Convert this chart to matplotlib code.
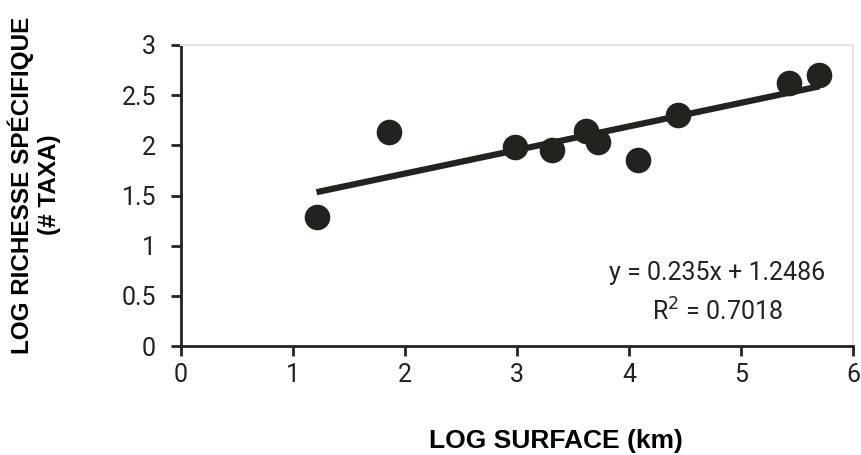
import matplotlib
matplotlib.use("Agg")
import matplotlib.pyplot as plt
from matplotlib import font_manager

log_surface = [1.21, 1.855, 2.98, 3.31, 3.62, 3.72, 4.08, 4.44, 5.43, 5.70]
log_richesse = [1.29, 2.13, 1.98, 1.95, 2.14, 2.03, 1.85, 2.30, 2.62, 2.70]
slope = 0.235
intercept = 1.2486
r2 = 0.7018
x_ticks = [0, 1, 2, 3, 4, 5, 6]
y_ticks = [0, 0.5, 1, 1.5, 2, 2.5, 3]
y_tick_labels = ["0", "0.5", "1", "1.5", "2", "2.5", "3"]

names = {f.name for f in font_manager.fontManager.ttflist}
narrow = ["Liberation Sans Narrow", "DejaVu Sans"] if "Liberation Sans Narrow" in names else ["Roboto", "DejaVu Sans"]
bold_font = ["Liberation Sans", "DejaVu Sans"]

fig = plt.figure(figsize=(8.61, 4.55), dpi=100)
ax = fig.add_axes([181/861, 109/455, 672/861, 301/455])

dark = "#22231f"
ax.scatter(log_surface, log_richesse, s=340, color=dark, zorder=3, linewidths=0)
x0, x1 = min(log_surface), max(log_surface)
ax.plot([x0, x1], [slope*x0 + intercept, slope*x1 + intercept], color=dark, lw=4.5,
        solid_capstyle="butt", zorder=2)

ax.set_xlim(0, 6)
ax.set_ylim(0, 3)
ax.set_xticks(x_ticks)
ax.set_yticks(y_ticks)
ax.set_yticklabels(y_tick_labels)
for lab in ax.get_xticklabels() + ax.get_yticklabels():
    lab.set_family(narrow)
    lab.set_fontsize(18)
    lab.set_color("#222222")

for s in ["left", "bottom"]:
    ax.spines[s].set_color(dark)
    ax.spines[s].set_linewidth(2.0)
for s in ["top", "right"]:
    ax.spines[s].set_color("#e6e6e6")
    ax.spines[s].set_linewidth(1.5)
ax.tick_params(axis="both", direction="out", length=7, width=2.0, color=dark)
ax.tick_params(axis="y", pad=11)
ax.tick_params(axis="x", pad=5)

fig.text(556/861, (455-448)/455, "LOG SURFACE (km)", family=bold_font, fontweight="bold",
         fontsize=19, ha="center", va="baseline")
fig.text(34/861, (455-185)/455, "LOG RICHESSE SPÉCIFIQUE\n(# TAXA)", family=bold_font,
         fontweight="bold", fontsize=17.5, rotation=90, ha="center", va="center",
         multialignment="center", linespacing=1.2)

ax.text(0.798, 0.2425, f"y = {slope}x + {intercept}", transform=ax.transAxes,
        ha="center", va="center", family=narrow, fontsize=18, color="#222222")
ax.text(0.798, 0.113, "R$^{2}$ = " + f"{r2:.4f}", transform=ax.transAxes,
        ha="center", va="center", family=narrow, fontsize=18, color="#222222")

fig.savefig("out.png", dpi=100)
